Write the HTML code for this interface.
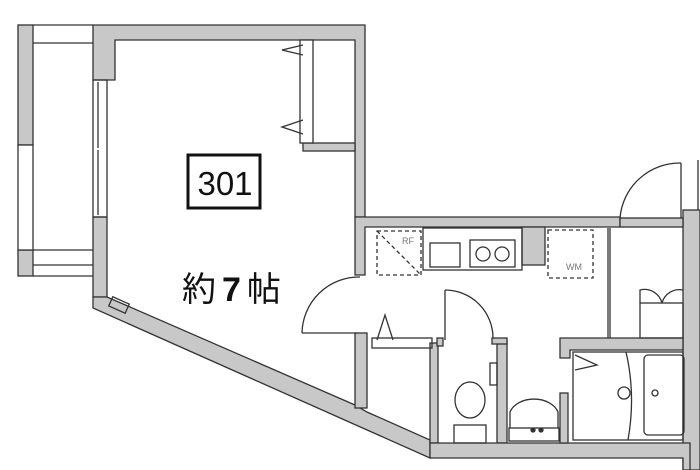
<!DOCTYPE html>
<html><head><meta charset="utf-8"><style>
html,body{margin:0;padding:0;background:#fff;width:700px;height:470px;overflow:hidden}
svg{display:block}
text{font-family:"Liberation Sans","Noto Sans CJK JP",sans-serif}
</style></head><body>
<svg width="700" height="470" viewBox="0 0 700 470" xmlns="http://www.w3.org/2000/svg">
<g fill="#c8c8c8" stroke="#333" stroke-width="1.3">
<rect x="18" y="25" width="15" height="120"/>
<rect x="18" y="250" width="15" height="26"/>
<rect x="18" y="145" width="15" height="105" fill="#fff"/>
<polygon points="93,25 365,25 365,217 355,217 355,40 115,40 115,80 93,80"/>
<polygon points="93,217 107,217 107,297 93,297"/>
<polygon points="93,297 107,297 355,405 367,412 430,440 430,458 93,308"/>
<rect x="355" y="333" width="12" height="75"/>
<polygon points="355,217 620,217 620,227 365,227 365,275 355,275"/>
<rect x="683" y="210" width="17" height="260"/>
<rect x="522" y="227" width="23" height="38"/>
<rect x="430" y="343" width="8" height="100"/>
<rect x="497" y="340" width="10" height="103"/>
<rect x="437" y="338" width="6" height="8"/>
<rect x="492" y="338" width="15" height="6"/>
<polygon points="430,443 690,443 690,470 683,470 683,458 430,458"/>
<polygon points="560,338 683,338 683,350 570,350 570,358 560,358"/>
<rect x="560" y="393" width="8" height="50"/>
<rect x="303" y="143" width="52" height="8"/>
</g>
<g fill="none" stroke="#333" stroke-width="1.3">
<line x1="33" y1="43" x2="93" y2="43"/><line x1="33" y1="250" x2="93" y2="250"/><line x1="33" y1="265" x2="93" y2="265"/>
<line x1="33" y1="25" x2="93" y2="25"/><line x1="33" y1="276" x2="93" y2="276"/>
<rect x="93" y="80" width="14" height="137"/>
<line x1="98" y1="82" x2="98" y2="148"/><line x1="98" y1="150" x2="98" y2="215"/>
<rect x="110" y="300" width="18" height="10" transform="rotate(24 119 305)"/>
<rect x="300" y="40" width="13" height="103" fill="#fff"/>
<polyline points="303,45 282,50 303,55"/><polyline points="303,120 282,127 303,134"/>
<path d="M360,277 A57,57 0 0 0 302,333"/><line x1="302" y1="333" x2="357" y2="333"/>
<rect x="377" y="231" width="44" height="44" stroke-dasharray="4,3"/>
<line x1="377" y1="231" x2="421" y2="275" stroke-dasharray="4,3"/>
<rect x="423" y="228" width="99" height="42"/>
<rect x="430" y="243" width="30" height="24"/>
<rect x="470" y="240" width="45" height="27"/>
<circle cx="483" cy="254" r="7"/><circle cx="502" cy="254" r="7"/>
<rect x="548" y="230" width="45" height="48" stroke-dasharray="4,3"/>
<line x1="608" y1="228" x2="608" y2="338"/><line x1="610" y1="228" x2="610" y2="338"/>
<rect x="640" y="303" width="43" height="35"/>
<path d="M640,303 V290 A18,18 0 0 1 662,303"/><path d="M662,303 A18,18 0 0 1 683,290"/>
<path d="M681,163 A60,60 0 0 0 620,218"/><line x1="681" y1="163" x2="681" y2="218"/>
<rect x="620" y="218" width="63" height="9" fill="#c8c8c8"/>
<line x1="698" y1="160" x2="698" y2="210"/>
<rect x="372" y="338" width="60" height="10"/>
<polyline points="377,340 385,315 393,340"/>
<path d="M445,290 A48,48 0 0 1 493,338"/><line x1="445" y1="290" x2="445" y2="340"/>
<rect x="490" y="363" width="7" height="22"/>
<ellipse cx="470" cy="400" rx="15" ry="18"/>
<rect x="454" y="425" width="32" height="18"/>
<path d="M510,428 V412 A25,18 0 0 1 558,412 V428"/>
<rect x="509" y="428" width="50" height="13"/>
<circle cx="533" cy="430" r="2" fill="#333"/><circle cx="541" cy="430" r="2" fill="#333"/>
<rect x="573" y="352" width="110" height="88"/>
<rect x="644" y="355" width="40" height="80" rx="4"/>
<circle cx="655" cy="393" r="3"/>
<circle cx="624" cy="393" r="6"/>
<path d="M626,352 Q636,395 628,440"/>
<polyline points="575,355 597,365 575,370"/>
</g>
<rect x="188" y="155" width="72" height="53" fill="#fff" stroke="#111" stroke-width="3"/>
<text x="225" y="195" font-size="33" text-anchor="middle" fill="#111">301</text>
<text x="182" y="301" font-size="34" fill="#111" letter-spacing="6">約<tspan font-weight="bold">7</tspan>帖</text>
<text x="402" y="244" font-size="9" fill="#777">RF</text>
<text x="566" y="270" font-size="9" fill="#777">WM</text>
</svg>
</body></html>
